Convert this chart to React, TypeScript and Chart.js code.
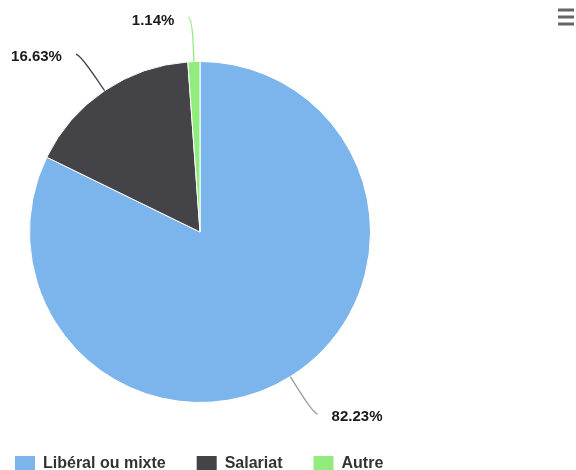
import React, { useEffect, useRef } from "react";
import { Chart, registerables } from "chart.js";

Chart.register(...registerables);

// ---- data ----
const categories: string[] = ["Libéral ou mixte", "Salariat", "Autre"];
const shares: number[] = [82.23, 16.63, 1.14];
const sliceColors: string[] = ["#7cb5ec", "#434348", "#90ed7d"];
const connectorColors: string[] = ["#9b9b9b", "#434348", "#90ed7d"];

const FONT = "'Liberation Sans', Arial, Helvetica, sans-serif";

// layout (not data): where the pie sits in the canvas
const PIE_BOX = { cx: 200, cy: 232, r: 171 };
const LEGEND_POS = { firstBoxX: 15, boxTop: 456, itemGap: 31 };

const layoutPlugin = {
  id: "layoutPlugin",
  afterLayout(chart: any) {
    const ca = chart.chartArea;
    ca.left = PIE_BOX.cx - PIE_BOX.r;
    ca.right = PIE_BOX.cx + PIE_BOX.r;
    ca.top = PIE_BOX.cy - PIE_BOX.r;
    ca.bottom = PIE_BOX.cy + PIE_BOX.r;
    ca.width = ca.right - ca.left;
    ca.height = ca.bottom - ca.top;
    const lg = chart.legend;
    if (lg) {
      const w = lg.width;
      const h = lg.height;
      lg.left = LEGEND_POS.firstBoxX - LEGEND_POS.itemGap;
      lg.right = lg.left + w;
      lg.top = LEGEND_POS.boxTop - LEGEND_POS.itemGap;
      lg.bottom = lg.top + h;
    }
  },
};

const labelPlugin = {
  id: "pieLabels",
  afterDatasetsDraw(chart: any) {
    const ctx = chart.ctx;
    const meta = chart.getDatasetMeta(0);
    ctx.save();
    meta.data.forEach((arc: any, i: number) => {
      const { x, y, startAngle, endAngle, outerRadius } = arc.getProps(
        ["x", "y", "startAngle", "endAngle", "outerRadius"],
        true
      );
      const mid = (startAngle + endAngle) / 2;
      const dx = Math.cos(mid);
      const dy = Math.sin(mid);
      const edge = { x: x + outerRadius * dx, y: y + outerRadius * dy };
      const brk = { x: x + (outerRadius + 10) * dx, y: y + (outerRadius + 10) * dy };
      const end = { x: x + (outerRadius + 44) * dx, y: y + (outerRadius + 44) * dy };
      const right = dx >= 0;
      const start = { x: end.x + (right ? 4 : -4), y: end.y };

      ctx.beginPath();
      ctx.moveTo(start.x, start.y);
      ctx.bezierCurveTo(end.x, end.y, 2 * brk.x - edge.x, 2 * brk.y - edge.y, brk.x, brk.y);
      ctx.lineTo(edge.x, edge.y);
      ctx.strokeStyle = connectorColors[i];
      ctx.lineWidth = 1.3;
      ctx.stroke();

      ctx.font = `bold 15px ${FONT}`;
      ctx.fillStyle = "#1a1a1a";
      ctx.textBaseline = "middle";
      ctx.textAlign = right ? "left" : "right";
      const tx = right ? end.x + 18 : end.x - 18;
      ctx.fillText(shares[i].toFixed(2) + "%", tx, end.y + 3);
    });

    // context-menu icon
    ctx.fillStyle = "#666666";
    const ix = chart.width - 18;
    [10, 17, 24].forEach((ly) => ctx.fillRect(ix, ly - 1.5, 16, 3));
    ctx.restore();
  },
};

export default function App() {
  const canvasRef = useRef<HTMLCanvasElement | null>(null);

  useEffect(() => {
    document.body.style.margin = "0";
    const canvas = canvasRef.current;
    if (!canvas) return;
    const chart = new Chart(canvas, {
      type: "pie",
      data: {
        labels: categories,
        datasets: [
          {
            data: shares,
            backgroundColor: sliceColors,
            borderColor: "#ffffff",
            borderWidth: 1,
            clip: false as any,
          },
        ],
      },
      options: {
        responsive: false,
        maintainAspectRatio: false,
        animation: false,
        plugins: {
          tooltip: { enabled: false },
          legend: {
            display: true,
            position: "bottom",
            align: "start",
            labels: {
              boxWidth: 20,
              boxHeight: 16,
              padding: LEGEND_POS.itemGap,
              color: "#333333",
              font: { family: FONT, size: 16, weight: "bold" },
              generateLabels: () =>
                categories.map((text, i) => ({
                  text,
                  fillStyle: sliceColors[i],
                  strokeStyle: sliceColors[i],
                  lineWidth: 0,
                  hidden: false,
                  index: i,
                  fontColor: "#333333",
                })),
            },
          },
        },
      },
      plugins: [layoutPlugin, labelPlugin],
    });
    return () => chart.destroy();
  }, []);

  return (
    <div style={{ position: "fixed", left: 0, top: 0, width: 576, height: 470, background: "#fff" }}>
      <canvas ref={canvasRef} width={576} height={470} style={{ display: "block" }} />
    </div>
  );
}
